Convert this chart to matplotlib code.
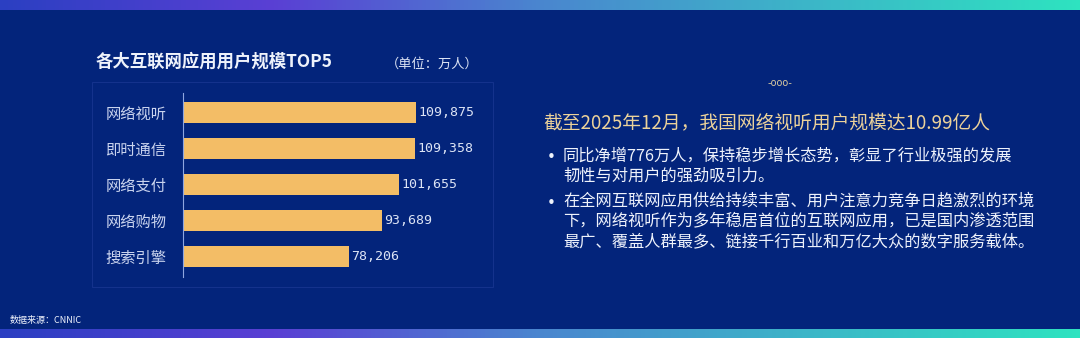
import numpy as np
import matplotlib
matplotlib.use("Agg")
import matplotlib.pyplot as plt
from matplotlib.colors import LinearSegmentedColormap
from matplotlib.patches import Rectangle

plt.rcParams['font.family'] = ['Noto Sans CJK SC', 'DejaVu Sans']

# data
categories = ["网络视听", "即时通信", "网络支付", "网络购物", "搜索引擎"]
users = [109875, 109358, 101655, 93689, 78206]   # 万人
title = "各大互联网应用用户规模TOP5"
unit = "（单位：万人）"
headline = "截至2025年12月，我国网络视听用户规模达10.99亿人"
bullets = [
    "同比净增776万人，保持稳步增长态势，彰显了行业极强的发展\n韧性与对用户的强劲吸引力。",
    "在全网互联网应用供给持续丰富、用户注意力竞争日趋激烈的环境\n下，网络视听作为多年稳居首位的互联网应用，已是国内渗透范围\n最广、覆盖人群最多、链接千行百业和万亿大众的数字服务载体。",
]
source = "数据来源：CNNIC"

BG = "#03247b"
BAR = "#f3bd66"
W, H = 1080, 338

fig = plt.figure(figsize=(10.8, 3.38), dpi=100, facecolor=BG)

# gradient bands top and bottom
grad = LinearSegmentedColormap.from_list(
    "band", ["#2b3fc2", "#5a3fd4", "#4a86cf", "#3cb6c8", "#2ee3c0"])
g = np.linspace(0, 1, 256).reshape(1, -1)
for y0, h in [(1 - 10 / H, 10 / H), (0, 9 / H)]:
    bax = fig.add_axes([0, y0, 1, h])
    bax.imshow(g, aspect="auto", cmap=grad)
    bax.set_axis_off()

# faint panel frame
fig.patches.append(Rectangle((92 / W, 1 - 287 / H), (493 - 92) / W, (287 - 82) / H,
                             transform=fig.transFigure, fill=False,
                             edgecolor="#14328c", linewidth=0.8))

# bar chart
ax = fig.add_axes([183 / W, 1 - 277 / H, (437.5 - 183) / W, (277 - 93) / H])
ax.set_facecolor("none")
y = np.arange(len(categories))
ax.barh(y, users, height=0.58, color=BAR)
ax.set_xlim(0, 120000)
ax.set_ylim(4.57, -0.54)
for s in ["top", "right", "bottom"]:
    ax.spines[s].set_visible(False)
ax.spines["left"].set_color("#8fa6e0")
ax.spines["left"].set_linewidth(0.8)
ax.set_xticks([])
ax.set_yticks(y)
ax.set_yticklabels(categories, fontsize=11, color="#c9d3ee")
ax.tick_params(axis="y", length=0, pad=12)
for yi, v in zip(y, users):
    ax.text(v + 1200, yi, f"{v:,}", va="center", ha="left",
            fontsize=9.5, family="DejaVu Sans Mono", color="#dde4f5")

fig.text(96 / W, 1 - 62 / H, title, fontsize=12.5, fontweight="bold",
         color="#eef2fb", va="center", ha="left")
fig.text(386 / W, 1 - 64 / H, unit, fontsize=9.5, color="#dde4f5",
         va="center", ha="left")

# decoration
fig.text(780 / W, 1 - 83 / H, "-ooo-", fontsize=7, color="#d9c9a0",
         va="center", ha="center", family="DejaVu Sans")

fig.text(543 / W, 1 - 123 / H, headline, fontsize=13.5, color="#ecd29a",
         va="center", ha="left")

line_y = [158, 203]
for yy, b in zip(line_y, bullets):
    fig.text(547 / W, 1 - yy / H, "•", fontsize=11, color="#eef2fb",
             va="center", ha="left", family="DejaVu Sans")
    fig.text(563 / W, 1 - (yy - 10.5) / H, b, fontsize=11.7, color="#eef2fb",
             va="top", ha="left", linespacing=1.25)

fig.text(10 / W, 1 - 320 / H, source, fontsize=6.5, color="#eef2fb",
         va="center", ha="left")

fig.savefig("out.png", dpi=100, facecolor=BG)
